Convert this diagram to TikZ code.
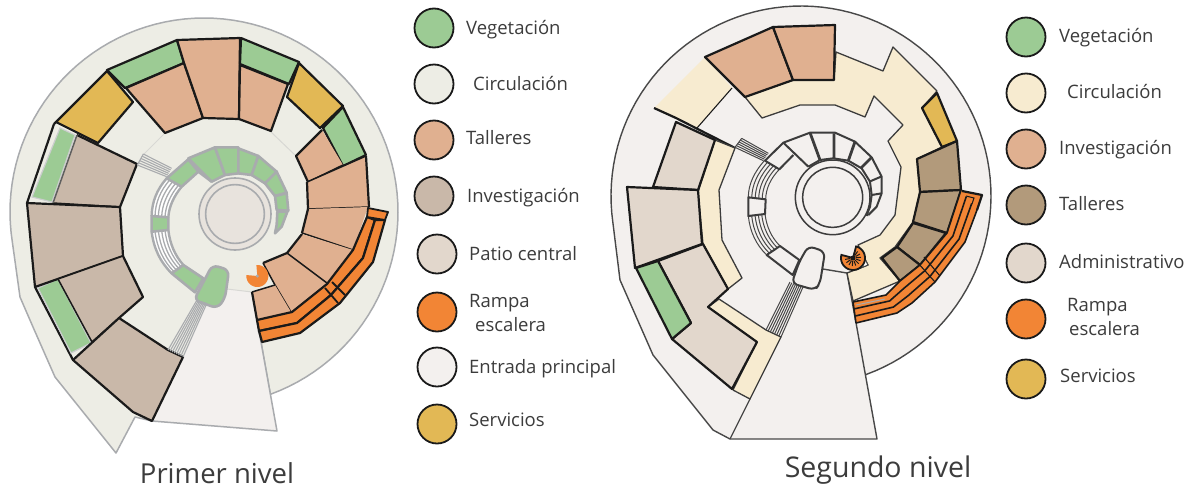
\documentclass[tikz,border=0pt]{standalone}
\usepackage{fontspec}
\setmainfont{Open Sans}
\usetikzlibrary{calc}
\definecolor{ink}{HTML}{1A1A1A}
\definecolor{softgray}{HTML}{A9ABAE}
\definecolor{fadegray}{HTML}{D8D8D4}
\definecolor{veg}{HTML}{9CCB94}
\definecolor{circA}{HTML}{EDEDE5}
\definecolor{circB}{HTML}{F7EBD0}
\definecolor{tall}{HTML}{E0B090}
\definecolor{inves}{HTML}{C9B8A9}
\definecolor{admin}{HTML}{E2D7CC}
\definecolor{ramp}{HTML}{F28535}
\definecolor{entry}{HTML}{F3F0EE}
\definecolor{serv}{HTML}{E2B855}
\definecolor{tallB}{HTML}{B29A7B}
\definecolor{patio}{HTML}{E8E3DD}
\tikzset{
  room/.style={draw=ink,line width=2.2pt,line join=round},
  thinroom/.style={draw=ink,line width=1.5pt,line join=round},
  corecell/.style={draw=softgray,line width=2.6pt,line join=round},
  coreB/.style={draw=ink!85,line width=2pt,line join=round},
  stairA/.style={draw=softgray,line width=1.1pt},
  stairB/.style={draw=ink!80,line width=1pt},
  swatch/.style={circle,draw=ink,line width=1.8pt,minimum size=39pt,inner sep=0pt},
  legtext/.style={anchor=base west,font=\fontsize{18.5}{20}\selectfont,text=ink!85,inner sep=0pt,yshift=-6.5pt},
  title/.style={anchor=center,inner sep=0pt,text=ink!85},
  zl/.style={shift={(130,130)},scale=1/3},
  zr/.style={shift={(730,120)},scale=1/3},
}
% one tread of a curved flight: outer curve #1,#2,#3 and inner curve #4,#5,#6, at fraction #7, style #8
\newcommand\treadcurve[8]{%
  \path ($(#1)!#7!(#4)$) coordinate (qa) ($(#2)!#7!(#5)$) coordinate (qb) ($(#3)!#7!(#6)$) coordinate (qc);
  \draw[#8] (qa) .. controls ($(qa)!0.667!(qb)$) and ($(qc)!0.667!(qb)$) .. (qc);
}
\newcommand\curvefill[6]{%
  \fill[white] (#1) .. controls ($(#1)!0.667!(#2)$) and ($(#3)!0.667!(#2)$) .. (#3) -- (#6)
     .. controls ($(#6)!0.667!(#5)$) and ($(#4)!0.667!(#5)$) .. (#4) -- cycle;
}
\begin{document}
\begin{tikzpicture}[x=1pt,y=-1pt]
\useasboundingbox (0,0) rectangle (1193,493);
\fill[white] (0,0) rectangle (1193,493);

%%% ------------ PRIMER NIVEL ------------
% site
\filldraw[fill=circA,draw=softgray,line width=1.5pt,line join=round]
  plot[domain=-70:189,samples=90] ({204+194*cos(\x)},{212-194*sin(\x)})
  -- (20,297) -- (33,327) -- (55,377) -- (116,453) -- (135,417) -- (152,421) -- (252,292) -- cycle;
% entrance
\fill[entry] (152,421) -- (183,357) -- (207,303) -- (227,289) -- (252,292) -- (277,431) -- cycle;
\draw[softgray,line width=1.5pt,line join=round] (252,292) -- (277,431) -- (152,421);
\draw[fadegray,line width=1pt] (227,289) -- (252,292);
\draw[fadegray,line width=1pt] (144,154) -- (165,133);
\draw[fadegray,line width=1pt] (271,132) -- (295,155);

% vegetation strips with frames
\draw[room] (54,124) -- (27,203);
\draw[room] (35,287) -- (73,360);
\filldraw[fill=veg,draw=softgray!60,line width=1.2pt] (60,128) -- (75,135) -- (52,202) -- (32,197) -- cycle;
\filldraw[fill=veg,draw=softgray!60,line width=1.2pt] (38,288) -- (58,279) -- (91,343) -- (71,353) -- cycle;
% investigacion
\path[fill=inves] (77,135) -- (137,164) -- (120,207) -- (53,203) -- cycle;
\draw[room] (77,135) -- (137,164) -- (120,207);
\draw[thinroom] (120,207) -- (53,203);
\draw[thinroom,draw=ink!70] (77,135) -- (53,203);
\filldraw[fill=inves,room] (27,203) -- (120,207) -- (123,256) -- (35,287) -- cycle;
\path[fill=inves] (58,279) -- (123,256) -- (143,297) -- (119,318) -- (92,342) -- cycle;
\draw[room] (123,256) -- (143,297) -- (119,318);
\draw[thinroom] (58,279) -- (123,256);
\draw[thinroom] (119,318) -- (92,342) -- (58,279);
\filldraw[fill=inves,room] (119,318) -- (168,350) -- (183,357) -- (152,421) -- (133,412) -- (73,360) -- cycle;
% services & green, top ring
\filldraw[fill=serv,room] (107,71) -- (133,102) -- (98,143) -- (56,122) -- cycle;
\draw[room] (56,122) -- (54,124);
\filldraw[fill=veg,room] (107,70) -- (177,40) -- (184,63) -- (125,88) -- cycle;
\filldraw[fill=tall,room] (126,88) -- (184,63) -- (203,118) -- (165,133) -- cycle;
\filldraw[fill=tall,room] (177,40) -- (240,38) -- (239,119) -- (203,118) -- (184,63) -- cycle;
\filldraw[fill=tall,room] (240,65) -- (288,84) -- (271,131) -- (239,119) -- cycle;
\filldraw[fill=veg,room] (241,38) -- (299,62) -- (289,84) -- (240,64) -- cycle;
\filldraw[fill=serv,room] (299,63) -- (343,106) -- (320,128) -- (287,97) -- cycle;
\filldraw[fill=veg,room] (343,107) -- (366,155) -- (343,166) -- (323,128) -- cycle;
\path[fill=tall] (322,130) -- (343,165) -- (308,182) -- (296,156) -- cycle;
\draw[room] (322,130) -- (296,156) -- (308,182);
\draw[thinroom] (308,182) -- (343,165);
\path[fill=tall] (366,156) -- (369,207) -- (308,209) -- (307,182) -- cycle;
\draw[room] (366,156) -- (369,207);
\draw[thinroom] (369,207) -- (308,209);
\draw[room] (307,182) -- (308,209);
\draw[thinroom] (307,182) -- (366,156);
\path[fill=tall] (368,207) -- (353,250) -- (302,233) -- (308,209) -- cycle;
\draw[room] (308,209) -- (302,233);
\draw[thinroom] (302,233) -- (353,250);
\path[fill=tall] (353,250) -- (327,283) -- (287,253) -- (302,234) -- cycle;
\draw[room] (302,234) -- (287,253);
\path[fill=tall] (263,263) -- (287,253) -- (327,283) -- (291,312) -- (275,285) -- cycle;
\draw[room] (263,263) -- (287,253);
\draw[thinroom] (287,253) -- (327,283);
\draw[thinroom] (291,312) -- (275,285) -- (263,263);
\path[fill=tall] (252,292) -- (275,285) -- (291,312) -- (257,320) -- cycle;
\draw[room] (257,320) -- (252,292);
\draw[thinroom] (252,292) -- (275,285);
% ramp
\filldraw[fill=ramp,room] (257,320) -- (292,312) -- (327,284) -- (353,250) -- (367,217) -- (375,220) -- (363,258) -- (331,295) -- (297,323) -- (259,331) -- cycle;
\filldraw[fill=ramp,room] (259,331) -- (297,323) -- (331,295) -- (363,258) -- (375,220) -- (385,220) -- (373,262) -- (340,303) -- (300,333) -- (262,342) -- cycle;
\filldraw[fill=ramp,room,line width=1.8pt] (368,208) -- (388,212) -- (385,220) -- (367,217) -- cycle;
\draw[room,line width=1.8pt] (325,288) -- (338,303) (332,282) -- (345,295);

% core
\begin{scope}[zl]
\coordinate (lo1) at (110,145); \coordinate (lc1) at (66,195); \coordinate (le1) at (65,258);
\coordinate (li1) at (155,170); \coordinate (ld1) at (118,215); \coordinate (lf1) at (115,262);
\coordinate (lo2) at (65,305); \coordinate (lc2) at (74,380); \coordinate (le2) at (125,430);
\coordinate (li2) at (115,300); \coordinate (ld2) at (122,362); \coordinate (lf2) at (160,405);
\curvefill{lo1}{lc1}{le1}{li1}{ld1}{lf1}
\curvefill{lo2}{lc2}{le2}{li2}{ld2}{lf2}
\foreach \t/\w in {0/2.4,0.2/1.3,0.4/1.3,0.6/1.3,0.8/1.3,1/2.4} {
  \treadcurve{lo1}{lc1}{le1}{li1}{ld1}{lf1}{\t}{stairA,line width=\w pt}
  \treadcurve{lo2}{lc2}{le2}{li2}{ld2}{lf2}{\t}{stairA,line width=\w pt}
}
% green cells
\filldraw[fill=veg,corecell] (175,85) -- (255,52) -- (285,135) -- (245,155) -- cycle;
\filldraw[fill=veg,corecell] (255,52) -- (325,52) -- (325,130) -- (285,135) -- cycle;
\filldraw[fill=veg,corecell] (325,55) -- (385,78) -- (365,135) -- (325,130) -- cycle;
\filldraw[fill=veg,corecell] (385,78) -- (440,125) -- (405,160) -- (365,135) -- cycle;
\filldraw[fill=veg,corecell] (440,125) -- (470,188) -- (435,198) -- (405,160) -- cycle;
\filldraw[fill=veg,corecell] (470,190) -- (475,242) -- (440,240) -- (435,198) -- cycle;
\filldraw[fill=veg,corecell] (472,245) -- (455,290) -- (435,310) -- (440,285) -- (442,245) -- cycle;
\filldraw[fill=veg,corecell] (110,145) -- (175,88) -- (205,125) -- (155,170) -- cycle;
\draw[corecell] (205,125) -- (245,155);
\filldraw[fill=veg,corecell] (65,258) -- (115,262) -- (115,300) -- (65,305) -- cycle;
\filldraw[fill=veg,corecell] (160,405) -- (220,445) -- (195,487) -- (125,430) -- cycle;
\filldraw[fill=veg,corecell,rounded corners=6pt] (247,405) -- (297,420) -- (285,505) -- (262,535) -- (192,510) -- cycle;
% patio
\filldraw[fill=patio,draw=softgray,line width=1.6pt] (315,252) circle (108);
\draw[softgray,line width=1.6pt] (315,252) circle (88);
% stair to ring
\coordinate (la) at (40,72); \coordinate (lb) at (22,105);
\coordinate (lc) at (125,115); \coordinate (ld) at (110,140);
\foreach \t in {0,0.2,0.4,0.6,0.8,1}
  \draw[stairA] ($(la)!\t!(lb)$) -- ($(lc)!\t!(ld)$);
\draw[stairA] (la) -- (lb);
% orange core
\fill[ramp] plot[domain=-185:95,samples=40] ({382+33*cos(\x)},{438-33*sin(\x)}) -- (382,438) -- cycle;
\fill[softgray] (382,438) circle (5);
\end{scope}
% entry stairs
\coordinate (ea) at (168,350); \coordinate (eb) at (183,357);
\coordinate (ec) at (197,300); \coordinate (ed) at (207,303);
\foreach \t in {0,0.143,0.286,0.429,0.571,0.714,0.857,1}
  \draw[stairA] ($(ea)!\t!(eb)$) -- ($(ec)!\t!(ed)$);

%%% ------------ SEGUNDO NIVEL ------------
\fill[entry]
  plot[domain=-70:188,samples=90] ({801+190*cos(\x)},{196-190*sin(\x)})
  -- (620,280) -- (653,355) -- (713,430) -- (730,439) -- (877,439) -- (847,273) -- cycle;
\draw[ink!80,line width=1.4pt,line join=round]
  plot[domain=-70:188,samples=90] ({801+190*cos(\x)},{196-190*sin(\x)})
  -- (620,280) -- (653,355) -- (713,430) -- (730,439) -- (877,439) -- (847,273);
\draw[ink!80,line width=1.2pt] (730,439) -- (750,399);
\draw[ink!80,line width=1.4pt] (823,269) -- (847,273);

% circulation
\fill[circB] (705,57) -- (732,88) -- (697,128) -- (654,108) -- cycle;
\draw[room] (654,108) -- (676,118) (676,118) -- (735,148);
\draw[thinroom,line width=1.1pt] (732,88) -- (697,128);
\filldraw[fill=circB,draw=ink!85,line width=1.3pt,line join=round]
  (745,97) -- (793,80) -- (834,80) -- (836,52) -- (883,71) -- (893,47) -- (937,91) -- (922,108)
  -- (942,147) -- (917,159) -- (920,192) -- (913,222) -- (895,247) -- (880,258) -- (900,281)
  -- (853,301) -- (847,273) -- (868,265) -- (858,245) -- (880,235) -- (895,215) -- (901,167)
  -- (888,141) -- (903,125) -- (874,96) -- (865,117) -- (835,105) -- (800,105) -- (762,118) -- cycle;
\filldraw[fill=circB,draw=ink!85,line width=1.3pt,line join=round]
  (715,140) -- (735,148) -- (719,190) -- (722,240) -- (742,278) -- (728,289) -- (703,244) -- (698,192) -- cycle;
\filldraw[fill=circB,draw=ink!85,line width=1.3pt,line join=round]
  (719,299) -- (766,330) -- (781,337) -- (750,399) -- (733,390) -- (757,342) -- (708,307) -- cycle;
% investigacion
\filldraw[fill=tall,room] (705,57) -- (773,27) -- (793,80) -- (745,97) -- cycle;
\filldraw[fill=tall,room] (773,27) -- (835,25) -- (834,80) -- (793,80) -- cycle;
% admin
\filldraw[fill=admin,room] (676,122) -- (715,140) -- (698,190) -- (653,187) -- cycle;
\filldraw[fill=admin,room] (627,187) -- (698,190) -- (702,244) -- (635,268) -- cycle;
\filldraw[fill=admin,room] (658,261) -- (703,244) -- (728,289) -- (708,307) -- (757,342) -- (732,389) -- (672,339) -- (691,323) -- cycle;
\filldraw[fill=veg,room] (636,268) -- (658,261) -- (691,323) -- (672,339) -- cycle;
% services
\filldraw[fill=serv,room] (937,93) -- (957,141) -- (942,147) -- (922,108) -- cycle;
% talleres
\filldraw[fill=tallB,room] (917,159) -- (957,141) -- (961,190) -- (920,192) -- cycle;
\filldraw[fill=tallB,room] (920,192) -- (961,190) -- (947,233) -- (913,222) -- cycle;
\filldraw[fill=tallB,room] (913,223) -- (946,233) -- (920,265) -- (897,247) -- cycle;
\filldraw[fill=tallB,room] (882,258) -- (897,247) -- (920,265) -- (900,281) -- cycle;
% ramp
\coordinate (ra1) at (853,302); \coordinate (rb1) at (856,323);
\coordinate (ra2) at (886,295); \coordinate (rb2) at (897,313);
\coordinate (ra3) at (900,281); \coordinate (rb3) at (912,303);
\coordinate (ra4) at (920,265); \coordinate (rb4) at (935,282);
\coordinate (ra5) at (947,233); \coordinate (rb5) at (965,242);
\coordinate (ra6) at (961,190); \coordinate (rb6) at (977,210);
\fill[ramp] (ra1) -- (ra2) -- (ra3) -- (ra4) -- (ra5) -- (ra6) -- (982,195) -- (rb6) -- (rb5) -- (rb4) -- (rb3) -- (rb2) -- (rb1) -- cycle;
\draw[room] (962,191) -- (982,195) -- (977,210);
\foreach \t in {0,0.33,0.67,1}
  \draw[ink,line width=1.6pt,line join=round] ($(ra1)!\t!(rb1)$) -- ($(ra2)!\t!(rb2)$) -- ($(ra3)!\t!(rb3)$) -- ($(ra4)!\t!(rb4)$) -- ($(ra5)!\t!(rb5)$) -- ($(ra6)!\t!(rb6)$);
\draw[ink,line width=1.1pt] (918,263) -- (935,282) (924,257) -- (940,276);
\draw[ink,line width=1pt] (966,196) -- (974,198) -- (972,204);
\draw[room,line width=1.6pt] (ra1) -- (rb1);
\draw[softgray,line width=1pt] (856,305) -- (885,299);

% core second level
\begin{scope}[zr]
\coordinate (ro1) at (105,120); \coordinate (rc1) at (55,175); \coordinate (re1) at (55,232);
\coordinate (ri1) at (148,148); \coordinate (rd1) at (108,190); \coordinate (rf1) at (107,238);
\coordinate (ro2) at (55,288); \coordinate (rc2) at (62,358); \coordinate (re2) at (110,405);
\coordinate (ri2) at (105,282); \coordinate (rd2) at (112,340); \coordinate (rf2) at (150,378);
\foreach \t in {0,0.2,0.4,0.6,0.8,1} {
  \treadcurve{ro1}{rc1}{re1}{ri1}{rd1}{rf1}{\t}{stairB}
  \treadcurve{ro2}{rc2}{re2}{ri2}{rd2}{rf2}{\t}{stairB}
}
\draw[coreB] (105,122) -- (160,68) -- (240,38) -- (315,38) -- (375,65) -- (425,112) -- (455,170) -- (455,220) -- (440,260) -- (415,285);
\draw[coreB] (235,140) -- (270,120) -- (310,115) -- (355,122) -- (395,145) -- (420,185) -- (425,225) -- (420,260) -- (410,285) -- (415,285);
\draw[coreB] (105,122) -- (148,148) -- (190,105);
\draw[coreB] (160,68) -- (235,140);
\draw[coreB,line width=2.8pt] (240,38) -- (270,120) (312,40) -- (312,115) (375,65) -- (355,122) (425,112) -- (392,145);
\draw[coreB] (453,170) -- (418,185) (455,220) -- (425,225);
\draw[coreB] (55,232) -- (107,238) -- (105,282) -- (55,288) -- cycle;
\draw[coreB] (110,405) -- (150,378) -- (208,420) -- (188,465) -- cycle;
\filldraw[fill=entry,coreB,rounded corners=6pt] (235,378) -- (285,395) -- (270,490) -- (255,510) -- (185,490) -- (208,425) -- cycle;
\draw[coreB,line width=1.5pt] (308,232) circle (112);
\draw[coreB,line width=1.5pt] (308,232) circle (90);
\coordinate (ra) at (35,55); \coordinate (rb) at (15,82);
\coordinate (rc) at (115,100); \coordinate (rd) at (100,122);
\foreach \t in {0,0.2,0.4,0.6,0.8,1}
  \draw[stairB] ($(ra)!\t!(rb)$) -- ($(rc)!\t!(rd)$);
\draw[stairB] (ra) -- (rb);
\end{scope}
% entry stairs second level
\coordinate (fa) at (766,330); \coordinate (fb) at (781,337);
\coordinate (fc) at (790,282); \coordinate (fd) at (803,287);
\foreach \t in {0,0.143,0.286,0.429,0.571,0.714,0.857,1}
  \draw[stairB] ($(fa)!\t!(fb)$) -- ($(fc)!\t!(fd)$);
% spiral stair core
\fill[white] (858,246) -- (868,265) -- (853,270) -- (853,259) -- cycle;
\draw[ink!80,line width=1pt] (858,246) -- (868,265) -- (856,270);
\filldraw[fill=ramp,draw=ink,line width=1.8pt]
  plot[domain=-195:75,samples=40] ({853+12*cos(\x)},{258-12*sin(\x)}) -- (853,258) -- cycle;
\foreach \a in {-195,-170,-145,-120,-95,-70,-45,-20,5,30,55,75}
  \draw[ink,line width=1pt] ({853+3*cos(\a)},{258-3*sin(\a)}) -- ({853+8*cos(\a)},{258-8*sin(\a)});
\fill[ink] (853,258) circle (2.5);

%%% ------------ LEGENDS ------------
\node[swatch,fill=veg]   (a1) at (434,28)  {};
\node[swatch,fill=circA] (a2) at (434,84)  {};
\node[swatch,fill=tall]  (a3) at (434,140) {};
\node[swatch,fill=inves] (a4) at (434,196) {};
\node[swatch,fill=admin] (a5) at (437,254) {};
\node[swatch,fill=ramp]  (a6) at (437,312) {};
\node[swatch,fill=entry] (a7) at (437,367) {};
\node[swatch,fill=serv]  (a8) at (437,424) {};
\node[legtext] (ta1) at (466,27.5) {Vegetación};
\node[legtext] (ta2) at (473,84) {Circulación};
\node[legtext] (ta3) at (466,138) {Talleres};
\node[legtext] (ta4) at (467,196) {Investigación};
\node[legtext] (ta5) at (469,254) {Patio central};
\node[legtext] (ta6) at (469,301) {Rampa};
\node[legtext] (ta6b) at (475,325) {escalera};
\node[legtext] (ta7) at (469,367) {Entrada principal};
\node[legtext] (ta8) at (469,420) {Servicios};
\node[title,font=\fontsize{27.5}{30}\selectfont] (ta) at (217,473) {Primer nivel};

\node[swatch,fill=veg]   (b1) at (1026,37)  {};
\node[swatch,fill=circB] (b2) at (1026,93)  {};
\node[swatch,fill=tall]  (b3) at (1026,149) {};
\node[swatch,fill=tallB] (b4) at (1026,205) {};
\node[swatch,fill=admin] (b5) at (1026,263) {};
\node[swatch,fill=ramp]  (b6) at (1026,319) {};
\node[swatch,fill=serv]  (b7) at (1026,379) {};
\node[legtext] (tb1) at (1059,36) {Vegetación};
\node[legtext] (tb2) at (1067,92) {Circulación};
\node[legtext] (tb3) at (1059,148) {Investigación};
\node[legtext] (tb4) at (1059,204) {Talleres};
\node[legtext] (tb5) at (1059,262) {Administrativo};
\node[legtext] (tb6) at (1067,305) {Rampa};
\node[legtext] (tb6b) at (1069,329) {escalera};
\node[legtext] (tb7) at (1060,376) {Servicios};
\node[title,font=\fontsize{28.5}{30}\selectfont] (tb) at (878,470) {Segundo nivel};
\end{tikzpicture}
\end{document}
